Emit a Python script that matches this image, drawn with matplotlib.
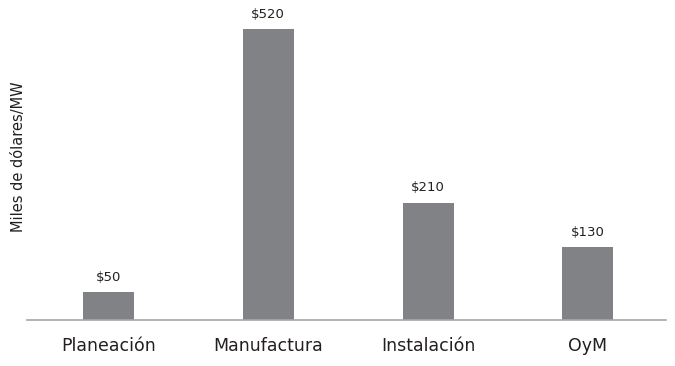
import matplotlib.pyplot as plt

etapas = ['Planeación', 'Manufactura', 'Instalación', 'OyM']
costos = [50, 520, 210, 130]
etiquetas = ['$50', '$520', '$210', '$130']

plt.rcParams['font.family'] = ['DejaVu Sans']

fig = plt.figure(figsize=(6.75, 3.66), dpi=100)
ax = fig.add_axes([0.04, 0.1257, 0.947, 0.8743])

x = range(len(etapas))
barras = ax.bar(x, costos, width=0.32, color='#818286')

for b, txt in zip(barras, etiquetas):
    ax.annotate(txt, (b.get_x() + b.get_width() / 2, b.get_height()),
                xytext=(0, 6), textcoords='offset points',
                ha='center', va='bottom', fontsize=9.5, color='#231f20')

ax.set_xlim(-0.51, 3.49)
ax.set_ylim(0, 572)
ax.set_xticks(list(x))
ax.set_xticklabels(etapas, fontsize=12.5, color='#231f20')
ax.tick_params(axis='x', length=0, pad=12)
ax.set_yticks([])

for lado in ['top', 'right', 'left']:
    ax.spines[lado].set_visible(False)
ax.spines['bottom'].set_color('#a7a7a7')
ax.spines['bottom'].set_linewidth(1.2)

fig.text(0.027, 0.573, 'Miles de dólares/MW', rotation=90, ha='center', va='center',
         fontsize=10.5, color='#231f20')

fig.savefig('out.png', dpi=100)
